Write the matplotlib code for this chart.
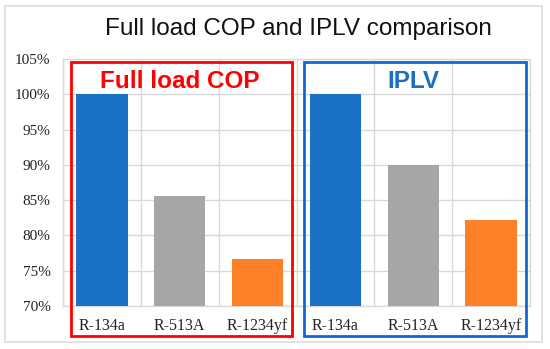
import matplotlib
matplotlib.use("Agg")
import matplotlib.pyplot as plt
from matplotlib.patches import Rectangle
import matplotlib.transforms as mtransforms

refrigerants = ["R-134a", "R-513A", "R-1234yf"]
full_load_cop = [100.0, 85.6, 76.6]
iplv = [100.0, 90.0, 82.2]
bar_colors = ["#1a71c6", "#a6a6a6", "#fd8026"]
yticks = [70, 75, 80, 85, 90, 95, 100, 105]
title = "Full load COP and IPLV comparison"
group_labels = ["Full load COP", "IPLV"]

fig = plt.figure(figsize=(5.5, 3.49), dpi=100)
fig.patch.set_facecolor("white")

# outer light border
fig.patches.append(Rectangle((5/550, 1 - 342/349), 537/550, 336/349,
                             transform=fig.transFigure, fill=False,
                             edgecolor="#dcdcdc", linewidth=1.2))

ax = fig.add_axes([63/550, 1 - 306/349, 467/550, 247/349])

values = full_load_cop + iplv
labels = refrigerants + refrigerants
colors = bar_colors + bar_colors
xs = list(range(len(values)))
ax.bar(xs, [v - 70 for v in values], bottom=70, width=0.66, color=colors, zorder=3)

ax.set_xlim(-0.5, len(values) - 0.5)
ax.set_ylim(70, 105)
ax.set_yticks(yticks)
ax.set_yticklabels([f"{t}%" for t in yticks], fontfamily="Liberation Serif", fontsize=11)
ax.set_xticks(xs)
ax.set_xticklabels(labels, fontfamily="Liberation Serif", fontsize=11.5)
ax.set_xticks([x + 0.5 for x in range(-1, len(values))], minor=True)
ax.tick_params(axis="both", which="both", length=0)
ax.tick_params(axis="y", pad=9, colors="#222222")
ax.tick_params(axis="x", pad=9, colors="#222222")
ax.grid(axis="y", color="#d9d9d9", linewidth=1.0, zorder=0)
ax.grid(axis="x", which="minor", color="#d9d9d9", linewidth=1.0, zorder=0)
for s in ax.spines.values():
    s.set_color("#d9d9d9")
    s.set_linewidth(1.0)

trans = mtransforms.blended_transform_factory(ax.transData, ax.transAxes)
# group boxes
ytop = 1 - (62 - 59) / 247
ybot = -(336 - 306) / 247
ax.add_patch(Rectangle((-0.397, ybot), 2.442 + 0.397, ytop - ybot, transform=trans,
                       fill=False, edgecolor="#ff0000", linewidth=2, clip_on=False, zorder=5))
ax.add_patch(Rectangle((2.597, ybot), 5.449 - 2.597, ytop - ybot, transform=trans,
                       fill=False, edgecolor="#1467d0", linewidth=2, clip_on=False, zorder=5))

ax.text(1.0, 101.8, group_labels[0], color="#ff0000", fontsize=17.5, fontweight="bold",
        fontfamily="Liberation Sans", ha="center", va="center", zorder=6)
ax.text(4.0, 101.8, group_labels[1], color="#1a6fc5", fontsize=17.5, fontweight="bold",
        fontfamily="Liberation Sans", ha="center", va="center", zorder=6)

fig.text(298/550, 1 - 29/349, title, fontsize=17.5, fontfamily="Liberation Sans",
         ha="center", va="center", color="#111111")

fig.savefig("out.png", dpi=100, facecolor="white")
